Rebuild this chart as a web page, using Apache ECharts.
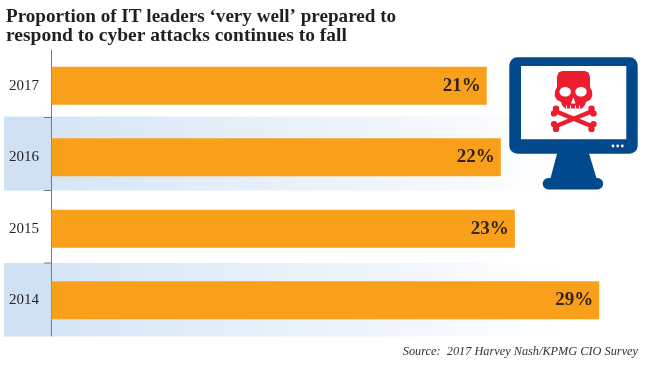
<!DOCTYPE html>
<html><head><meta charset="utf-8">
<style>html,body{margin:0;padding:0;background:#fff}#c{width:650px;height:366px}</style>
<script src="https://cdn.jsdelivr.net/npm/echarts@6/dist/echarts.min.js"></script>
</head><body><div id="c"></div>
<script>
const years = ['2017', '2016', '2015', '2014'];
const shares = [21, 22, 23, 29];
const titleLines = ['Proportion of IT leaders \u2018very well\u2019 prepared to', 'respond to cyber attacks continues to fall'];
const sourceText = 'Source:  2017 Harvey Nash/KPMG CIO Survey';
const axisMin = -10, axisMax = 32.4;
const serif = '"Liberation Serif", serif';
const navy = '#02498c', red = '#ed1c2e', ink = '#231f20';

function band(y, h) {
  return [
    { type: 'rect', shape: { x: 4, y, width: 47, height: h }, style: { fill: '#cfe1f3' } },
    { type: 'rect', shape: { x: 51, y, width: 515, height: h }, style: { fill: {
      type: 'linear', x: 0, y: 0, x2: 1, y2: 0,
      colorStops: [{ offset: 0, color: '#d6e6f6' }, { offset: 0.6, color: '#eef4fb' }, { offset: 1, color: '#ffffff' }]
    } } }
  ];
}
function tick(y) {
  return { type: 'line', shape: { x1: 44, y1: y, x2: 51, y2: y }, style: { stroke: '#6f7a85', lineWidth: 1 } };
}
function bone(x1, y1, x2, y2) {
  const dx = x2 - x1, dy = y2 - y1, l = Math.hypot(dx, dy), px = -dy / l * 2.6, py = dx / l * 2.6;
  const knob = (x, y) => ({ type: 'circle', z: 5, shape: { cx: x, cy: y, r: 3.2 }, style: { fill: red } });
  return [
    { type: 'line', z: 5, shape: { x1, y1, x2, y2 }, style: { stroke: red, lineWidth: 4.5 } },
    knob(x1 + px, y1 + py), knob(x1 - px, y1 - py), knob(x2 + px, y2 + py), knob(x2 - px, y2 - py)
  ];
}
function titleLine(text, y, scaleX) {
  return { type: 'text', z: 8, x: 6, y, scaleX, style: { text, x: 0, y: 0, verticalAlign: 'middle',
    font: 'bold 19.5px ' + serif, fill: ink } };
}
const skullOutline = [[562, 71], [585, 71], [588.5, 72.5], [590, 77], [590, 87], [592, 91], [592.3, 96], [590, 100], [586, 102], [585, 105], [582, 108.5], [565, 108.5], [562, 105], [561, 102], [557, 100], [554.7, 96], [555, 91], [557, 87], [557, 77], [558.5, 72.5]];
const icon = [
  { type: 'polygon', z: 3, shape: { points: [[558, 150], [588, 150], [597, 180], [550, 180]] }, style: { fill: navy } },
  { type: 'rect', z: 3, shape: { x: 542.7, y: 178, width: 60.5, height: 11.5, r: 5.7 }, style: { fill: navy } },
  { type: 'rect', z: 3, shape: { x: 509.3, y: 57.3, width: 128.4, height: 96.4, r: 8 }, style: { fill: navy } },
  { type: 'rect', z: 4, shape: { x: 521, y: 66, width: 105.3, height: 73.3 }, style: { fill: '#ffffff' } },
  { type: 'circle', z: 4, shape: { cx: 613, cy: 146, r: 1.4 }, style: { fill: '#fff' } },
  { type: 'circle', z: 4, shape: { cx: 617.7, cy: 146, r: 1.4 }, style: { fill: '#fff' } },
  { type: 'circle', z: 4, shape: { cx: 622.3, cy: 146, r: 1.4 }, style: { fill: '#fff' } },
  ...bone(555, 111, 592.5, 126.5),
  ...bone(592.5, 111, 555, 126.5),
  { type: 'polygon', z: 6, shape: { points: skullOutline }, style: { fill: red } },
  { type: 'ellipse', z: 7, shape: { cx: 565.2, cy: 91.7, rx: 5.7, ry: 4.8 }, style: { fill: '#fff' } },
  { type: 'ellipse', z: 7, shape: { cx: 581, cy: 91.7, rx: 5.7, ry: 4.8 }, style: { fill: '#fff' } },
  { type: 'polygon', z: 7, shape: { points: [[573.3, 97], [575.5, 103.5], [571, 103.5]] }, style: { fill: '#fff' } },
  { type: 'rect', z: 7, shape: { x: 566, y: 105.5, width: 1, height: 3 }, style: { fill: '#fff' } },
  { type: 'rect', z: 7, shape: { x: 570, y: 105.5, width: 1, height: 3 }, style: { fill: '#fff' } },
  { type: 'rect', z: 7, shape: { x: 575, y: 105.5, width: 1, height: 3 }, style: { fill: '#fff' } },
  { type: 'rect', z: 7, shape: { x: 579, y: 105.5, width: 1, height: 3 }, style: { fill: '#fff' } }
];

const chart = echarts.init(document.getElementById('c'), null, { renderer: 'canvas' });
chart.setOption({
  animation: false,
  backgroundColor: '#ffffff',
  grid: { left: 51, top: 50, width: 596, height: 286, containLabel: false },
  xAxis: { type: 'value', min: axisMin, max: axisMax, show: false },
  yAxis: {
    type: 'category', inverse: true, data: years,
    axisLine: { show: true, onZero: false, lineStyle: { color: '#6f7a85', width: 1 } },
    axisTick: { show: false }, splitLine: { show: false },
    axisLabel: { margin: 12, fontFamily: serif, fontSize: 15, color: ink }
  },
  graphic: { elements: [
    ...band(116.5, 74), ...band(263, 73.5),
    tick(117.5), tick(190.5), tick(263),
    ...icon,
    titleLine(titleLines[0], 17, 0.98), titleLine(titleLines[1], 36, 1),
    { type: 'text', z: 8, style: { text: sourceText, x: 638, y: 352, align: 'right', verticalAlign: 'middle',
        font: 'italic 12.3px ' + serif, fill: '#333' } }
  ] },
  series: [{
    type: 'custom', z: 3,
    data: shares.map((v, i) => [v, i]),
    encode: { x: 0, y: 1 },
    renderItem: (params, api) => {
      const end = api.coord([api.value(0), api.value(1)]);
      const start = api.coord([axisMin, api.value(1)]);
      return {
        type: 'rect',
        shape: { x: start[0] + 0.5, y: end[1] - 19, width: end[0] - start[0] - 0.5, height: 38 },
        style: { fill: '#f9a01b' },
        textContent: { style: { text: api.value(0) + '%', font: 'bold 19px ' + serif, fill: '#33241a' } },
        textConfig: { position: 'insideRight', distance: 6 }
      };
    }
  }]
});
</script></body></html>
